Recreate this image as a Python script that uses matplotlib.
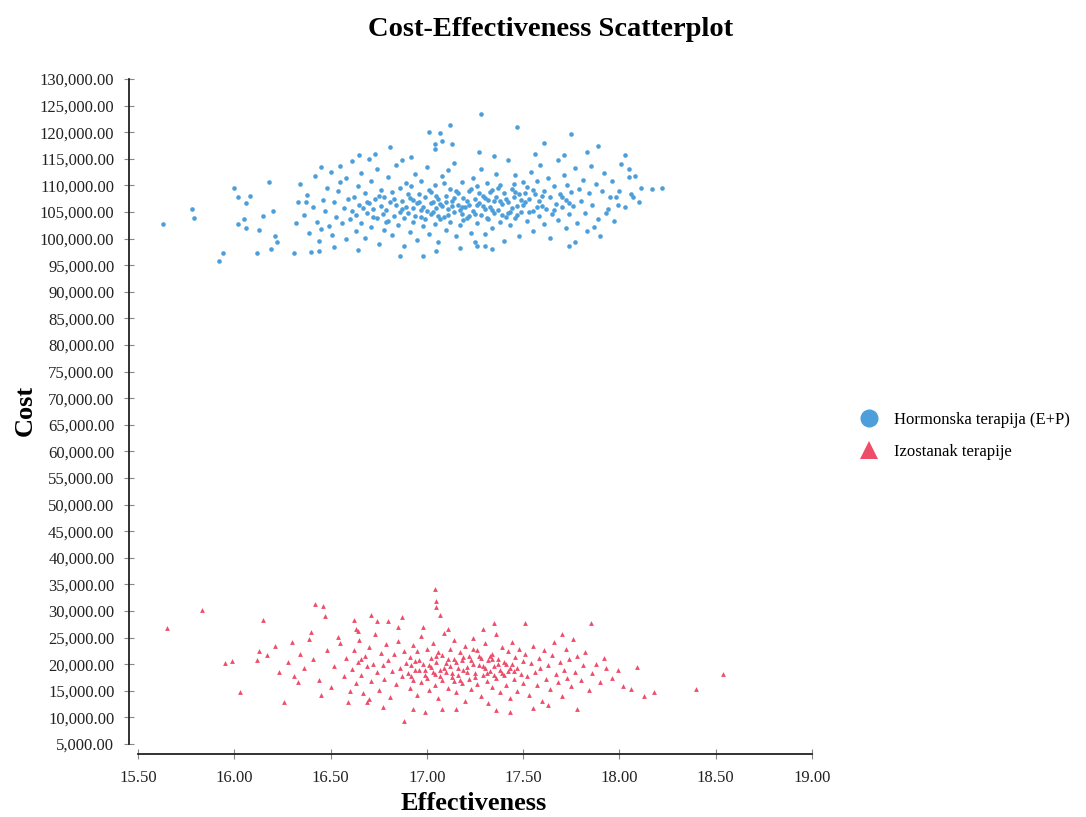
# -*- coding: utf-8 -*-
import matplotlib
matplotlib.use('Agg')
import matplotlib.pyplot as plt
from matplotlib.lines import Line2D
from matplotlib.ticker import FuncFormatter

# (effectiveness, cost in thousands)
hormon_points = [
    # outliers
    (15.63, 102.7), (15.78, 105.6), (15.79, 103.9), (15.92, 95.8), (15.94, 97.3), (16.00, 109.5),
    (16.02, 107.8), (16.06, 106.6), (16.08, 108.0), (16.02, 102.7), (16.06, 101.9), (16.05, 103.6),
    (16.12, 97.2), (16.13, 101.7), (16.15, 104.2), (16.18, 110.6), (16.20, 105.1), (16.21, 100.4),
    (16.22, 99.4), (16.19, 98.0), (16.31, 97.3), (16.32, 102.9), (16.33, 106.9), (16.34, 110.3),
    (16.45, 113.4), (16.40, 97.4), (16.44, 97.7), (16.52, 98.5), (16.61, 114.6), (16.65, 115.8),
    (16.73, 115.9), (16.81, 117.3), (17.01, 120.1), (17.07, 119.8), (17.12, 121.4), (17.08, 118.4),
    (17.04, 117.8), (17.04, 116.8), (17.13, 117.7), (16.86, 96.7), (16.98, 96.7), (17.26, 98.6),
    (17.28, 123.5), (17.47, 120.9), (17.75, 119.7), (17.89, 117.5), (18.03, 115.8), (18.05, 113.0),
    (18.22, 109.6), (18.17, 109.3), (18.11, 109.6), (18.07, 107.9), (18.10, 106.9), (18.05, 111.5),
    (17.95, 107.9), (17.98, 107.9), (17.99, 106.3), (17.93, 104.8), (17.74, 98.6), (17.77, 99.3),
    (17.87, 102.2), (17.30, 98.6), (17.34, 98.0), (17.83, 116.3), (17.61, 117.9),
    # 16.35 - 16.6
    (16.36, 104.5), (16.38, 108.2), (16.39, 101.0), (16.41, 106.0), (16.42, 111.8), (16.43, 103.2),
    (16.44, 99.5), (16.46, 107.3), (16.47, 105.1), (16.48, 109.6), (16.49, 102.3), (16.50, 112.5),
    (16.51, 100.6), (16.52, 106.8), (16.53, 104.0), (16.54, 108.9), (16.55, 110.7), (16.56, 102.9),
    (16.57, 105.8), (16.58, 99.9), (16.59, 107.5), (16.60, 103.6), (16.37, 106.9), (16.45, 101.8),
    (16.55, 113.6), (16.58, 111.3),
    # 16.6 - 16.9
    (16.61, 105.2), (16.62, 107.9), (16.63, 101.4), (16.63, 104.4), (16.64, 109.8), (16.65, 106.3),
    (16.66, 112.4), (16.66, 103.0), (16.67, 105.7), (16.68, 100.2), (16.68, 108.5), (16.69, 104.9),
    (16.70, 106.6), (16.71, 102.1), (16.71, 110.9), (16.72, 105.5), (16.73, 107.4), (16.74, 103.8),
    (16.74, 113.1), (16.75, 99.0), (16.76, 106.1), (16.76, 109.2), (16.77, 104.6), (16.78, 101.7),
    (16.78, 107.9), (16.79, 105.3), (16.80, 111.6), (16.80, 103.3), (16.81, 106.9), (16.82, 100.6),
    (16.82, 108.8), (16.83, 104.2), (16.84, 106.4), (16.84, 113.9), (16.85, 102.5), (16.86, 109.5),
    (16.86, 105.0), (16.87, 107.1), (16.88, 98.7), (16.88, 103.9), (16.89, 110.4), (16.89, 106.0),
    (16.64, 97.9), (16.70, 115.0), (16.87, 114.8),
    # 16.9 - 17.2
    (16.90, 104.8), (16.91, 107.6), (16.91, 101.2), (16.92, 109.9), (16.93, 105.7), (16.93, 103.1),
    (16.94, 112.2), (16.95, 106.6), (16.95, 99.8), (16.96, 108.3), (16.97, 104.1), (16.97, 110.9),
    (16.98, 106.0), (16.98, 102.4), (16.99, 107.9), (17.00, 105.2), (17.00, 113.5), (17.01, 100.9),
    (17.02, 108.7), (17.02, 104.6), (17.03, 106.9), (17.04, 102.8), (17.04, 110.1), (17.05, 105.8),
    (17.06, 107.4), (17.06, 99.3), (17.07, 103.7), (17.08, 111.7), (17.08, 106.2), (17.09, 104.0),
    (17.10, 108.1), (17.10, 101.6), (17.11, 105.5), (17.12, 109.4), (17.12, 103.2), (17.13, 107.0),
    (17.14, 114.3), (17.14, 105.0), (17.15, 100.4), (17.16, 108.6), (17.16, 106.4), (17.17, 102.6),
    (17.18, 110.6), (17.18, 104.7), (17.19, 107.7), (17.20, 105.9), (16.92, 115.3), (17.05, 97.7),
    (17.17, 98.3), (17.11, 112.9),
    # 17.2 - 17.5
    (17.21, 103.9), (17.22, 108.9), (17.22, 106.3), (17.23, 101.1), (17.24, 111.3), (17.24, 105.1),
    (17.25, 107.5), (17.26, 103.0), (17.26, 109.8), (17.27, 106.7), (17.28, 104.4), (17.28, 113.0),
    (17.29, 108.0), (17.30, 100.8), (17.30, 105.6), (17.31, 110.5), (17.32, 107.2), (17.32, 103.6),
    (17.33, 106.0), (17.34, 109.1), (17.34, 101.9), (17.35, 104.9), (17.36, 112.1), (17.36, 107.8),
    (17.37, 105.3), (17.38, 103.1), (17.38, 110.0), (17.39, 106.5), (17.40, 108.6), (17.40, 99.6),
    (17.41, 104.1), (17.42, 114.7), (17.42, 106.9), (17.43, 102.5), (17.44, 109.4), (17.44, 105.7),
    (17.45, 107.9), (17.46, 103.8), (17.46, 111.9), (17.47, 106.1), (17.48, 100.5), (17.48, 108.4),
    (17.49, 105.0), (17.50, 110.7), (17.27, 116.2), (17.35, 115.6), (17.25, 99.4),
    # 17.5 - 17.8
    (17.51, 106.8), (17.52, 103.4), (17.52, 109.7), (17.53, 107.5), (17.54, 112.6), (17.55, 105.2),
    (17.55, 101.4), (17.56, 108.3), (17.57, 110.9), (17.58, 104.3), (17.58, 107.0), (17.59, 113.8),
    (17.60, 106.2), (17.61, 102.7), (17.61, 109.0), (17.62, 105.5), (17.63, 111.4), (17.64, 107.8),
    (17.64, 100.1), (17.65, 104.7), (17.66, 109.9), (17.67, 106.5), (17.68, 114.8), (17.68, 103.5),
    (17.69, 108.4), (17.70, 105.9), (17.71, 111.9), (17.72, 107.3), (17.72, 101.9), (17.73, 110.1),
    (17.74, 104.6), (17.75, 108.8), (17.76, 106.2), (17.77, 113.2), (17.78, 103.0), (17.79, 109.4),
    (17.80, 107.1), (17.56, 115.9), (17.71, 115.7),
    # 17.8 - 18.1
    (17.81, 111.0), (17.82, 104.8), (17.84, 108.6), (17.85, 113.6), (17.86, 106.4), (17.88, 110.2),
    (17.89, 103.7), (17.91, 108.9), (17.92, 112.3), (17.94, 105.6), (17.96, 110.9), (17.97, 103.3),
    (18.00, 109.0), (18.01, 114.1), (18.03, 105.9), (18.06, 108.4), (18.08, 111.8), (17.83, 101.4),
    (17.90, 100.5),
    # dense centre
    (16.87, 105.6), (16.90, 108.4), (16.94, 104.3), (16.96, 106.9), (16.99, 103.7), (17.01, 109.1),
    (17.03, 105.0), (17.05, 108.0), (17.07, 106.5), (17.09, 110.4), (17.11, 104.5), (17.13, 106.1),
    (17.15, 109.0), (17.17, 105.3), (17.19, 103.5), (17.21, 107.0), (17.23, 109.4), (17.25, 104.6),
    (17.27, 108.5), (17.29, 106.2), (17.31, 103.8), (17.33, 108.8), (17.35, 107.0), (17.37, 109.6),
    (17.39, 104.5), (17.41, 107.4), (17.43, 105.0), (17.45, 110.3), (17.47, 104.4), (17.49, 107.2),
    (17.51, 108.6), (17.53, 105.0), (17.55, 109.1), (17.57, 106.0), (16.93, 107.2), (16.97, 105.3),
    (17.02, 106.7), (17.06, 104.2), (17.10, 106.9), (17.14, 107.6), (17.18, 106.0), (17.22, 104.2),
    (17.26, 106.3), (17.30, 107.6), (17.34, 105.4), (17.38, 107.1), (17.42, 104.8), (17.46, 108.8),
    (17.50, 106.4), (16.83, 107.4), (16.79, 103.1), (16.75, 108.0), (16.72, 104.0), (16.69, 106.8),
    (17.60, 108.1), (17.66, 105.4), (17.70, 107.9), (17.74, 106.6),
]

izostanak_points = [
    # outliers
    (15.65, 26.8), (15.83, 30.2), (15.95, 20.3), (15.99, 20.6), (16.03, 14.8), (16.15, 28.4),
    (16.12, 20.8), (16.13, 22.4), (16.21, 23.4), (16.26, 12.9), (16.23, 18.6), (16.42, 31.3),
    (16.46, 31.0), (16.47, 29.1), (16.54, 25.1), (16.30, 24.2), (16.31, 17.7), (16.71, 29.3),
    (16.74, 28.1), (16.62, 28.3), (16.64, 26.3), (16.80, 28.1), (16.87, 28.9), (17.04, 34.1),
    (17.05, 31.8), (17.05, 30.8), (17.07, 29.2), (16.88, 9.4), (16.69, 12.9), (16.45, 14.3),
    (16.59, 12.9), (16.77, 11.9), (16.93, 11.6), (16.99, 11.1), (17.08, 11.6), (17.15, 11.6),
    (18.54, 18.2), (18.40, 15.3), (18.18, 14.8), (18.13, 14.0), (18.09, 19.4), (18.02, 15.9),
    (18.06, 15.3), (17.85, 27.7), (17.51, 27.8), (17.35, 27.8), (17.76, 24.7), (17.92, 21.1),
    (17.99, 18.9), (17.36, 11.4), (17.43, 11.1), (17.78, 11.5), (17.55, 11.7),
    # sparse left part
    (16.17, 21.7), (16.28, 20.5), (16.34, 22.0), (16.36, 19.2), (16.33, 16.7), (16.39, 24.8),
    (16.41, 20.9), (16.44, 17.1), (16.48, 22.6), (16.50, 15.8), (16.52, 19.6), (16.55, 23.9),
    (16.57, 17.8), (16.58, 21.2), (16.60, 14.9), (16.40, 26.1),
    # 16.6 - 16.9
    (16.61, 19.1), (16.62, 22.7), (16.63, 16.5), (16.64, 20.4), (16.65, 24.5), (16.66, 18.0),
    (16.67, 14.6), (16.68, 21.5), (16.69, 19.6), (16.70, 23.2), (16.71, 16.9), (16.72, 20.1),
    (16.73, 25.6), (16.74, 18.5), (16.75, 15.1), (16.76, 22.1), (16.77, 19.9), (16.78, 17.3),
    (16.79, 23.8), (16.80, 20.7), (16.81, 13.9), (16.82, 18.8), (16.83, 21.9), (16.84, 16.2),
    (16.85, 24.4), (16.86, 19.3), (16.87, 17.7), (16.88, 22.5), (16.89, 20.2), (16.63, 26.6),
    (16.70, 13.4), (16.85, 26.9), (16.66, 21.0),
    # 16.9 - 17.2
    (16.90, 18.3), (16.91, 21.3), (16.91, 15.6), (16.92, 19.8), (16.93, 23.6), (16.93, 17.1),
    (16.94, 20.6), (16.95, 14.2), (16.95, 22.4), (16.96, 18.9), (16.97, 25.3), (16.97, 16.6),
    (16.98, 20.1), (16.99, 19.0), (17.00, 22.9), (17.00, 17.5), (17.01, 15.1), (17.02, 21.1),
    (17.02, 19.4), (17.03, 24.0), (17.04, 18.2), (17.04, 16.0), (17.05, 20.5), (17.06, 22.3),
    (17.06, 13.7), (17.07, 19.0), (17.08, 17.0), (17.08, 21.8), (17.09, 25.9), (17.10, 18.6),
    (17.10, 20.3), (17.11, 15.5), (17.12, 22.9), (17.12, 19.6), (17.13, 17.6), (17.14, 21.0),
    (17.14, 24.6), (17.15, 14.7), (17.16, 19.2), (17.16, 18.0), (17.17, 22.2), (17.18, 16.4),
    (17.18, 20.8), (17.19, 18.9), (17.20, 23.5), (17.20, 13.0), (16.98, 27.0), (17.11, 26.6),
    # 17.2 - 17.5
    (17.21, 19.5), (17.22, 17.2), (17.22, 21.6), (17.23, 15.3), (17.24, 20.1), (17.24, 24.9),
    (17.25, 18.4), (17.26, 22.6), (17.26, 16.3), (17.27, 19.9), (17.28, 14.0), (17.28, 21.2),
    (17.29, 18.0), (17.30, 23.9), (17.30, 19.3), (17.31, 16.8), (17.32, 20.7), (17.32, 12.7),
    (17.33, 18.7), (17.34, 22.0), (17.34, 15.7), (17.35, 19.6), (17.36, 25.6), (17.36, 17.5),
    (17.37, 21.0), (17.38, 14.7), (17.38, 19.0), (17.39, 23.2), (17.40, 17.9), (17.40, 20.4),
    (17.41, 16.1), (17.42, 22.4), (17.42, 18.8), (17.43, 13.6), (17.44, 20.0), (17.44, 24.2),
    (17.45, 17.3), (17.46, 21.4), (17.47, 15.0), (17.47, 19.2), (17.48, 22.8), (17.49, 18.1),
    (17.50, 20.6), (17.50, 16.5), (17.29, 26.7),
    # 17.5 - 17.9
    (17.51, 21.9), (17.52, 17.8), (17.53, 14.3), (17.54, 20.3), (17.55, 23.5), (17.56, 18.6),
    (17.57, 16.0), (17.58, 21.2), (17.59, 19.3), (17.60, 13.1), (17.61, 22.6), (17.62, 17.2),
    (17.63, 19.9), (17.64, 15.4), (17.65, 21.7), (17.66, 24.1), (17.67, 18.2), (17.68, 16.7),
    (17.69, 20.5), (17.70, 14.1), (17.71, 19.0), (17.72, 22.9), (17.73, 17.4), (17.74, 20.9),
    (17.75, 15.9), (17.77, 18.6), (17.78, 21.5), (17.80, 17.0), (17.81, 19.8), (17.82, 22.2),
    (17.84, 15.2), (17.86, 18.3), (17.88, 20.1), (17.90, 16.6), (17.93, 19.2), (17.96, 17.4),
    (17.63, 12.4), (17.70, 25.6),
    # dense centre
    (16.96, 20.8), (16.99, 17.9), (17.01, 19.8), (17.03, 18.6), (17.05, 21.6), (17.07, 17.7),
    (17.09, 19.3), (17.11, 20.9), (17.13, 18.4), (17.15, 20.4), (17.17, 17.0), (17.19, 21.3),
    (17.21, 18.5), (17.23, 20.7), (17.25, 17.6), (17.27, 21.5), (17.29, 19.6), (17.31, 18.3),
    (17.33, 21.6), (17.35, 17.9), (17.37, 20.0), (17.39, 18.4), (17.41, 20.0), (17.43, 19.3),
    (17.45, 18.7), (16.92, 17.8), (16.94, 19.0), (17.14, 16.9), (17.24, 22.9), (17.34, 20.9),
]

series_labels = ['Hormonska terapija (E+P)', 'Izostanak terapije']
x_ticks = [15.5, 16.0, 16.5, 17.0, 17.5, 18.0, 18.5, 19.0]
y_ticks = list(range(5000, 130001, 5000))

BLUE = '#4c9fda'
RED = '#ee4d6a'
SERIF = ['Liberation Serif', 'DejaVu Serif']

plt.rcParams['font.family'] = SERIF

fig = plt.figure(figsize=(10.86, 8.17), dpi=100)
W, H = 1086, 817
ax = fig.add_axes([138 / W, 1 - 744 / H, (812 - 138) / W, (744 - 79) / H])

hx = [p[0] for p in hormon_points]
hy = [p[1] * 1000 for p in hormon_points]
ix = [p[0] for p in izostanak_points]
iy = [p[1] * 1000 for p in izostanak_points]

ax.scatter(hx, hy, s=11, marker='o', color=BLUE, linewidths=0)
ax.scatter(ix, iy, s=12, marker='^', color=RED, linewidths=0)

ax.set_xlim(15.5, 19.0)
ax.set_ylim(5000, 130000)
ax.set_xticks(x_ticks)
ax.set_yticks(y_ticks)
ax.xaxis.set_major_formatter(FuncFormatter(lambda v, p: f'{v:.2f}'))
ax.yaxis.set_major_formatter(FuncFormatter(lambda v, p: f'{v:,.2f}'))

for side in ('top', 'right'):
    ax.spines[side].set_visible(False)
ax.spines['left'].set_position(('outward', 6.5))
ax.spines['bottom'].set_position(('outward', 7.2))
ax.spines['left'].set_bounds(5000, 130000)
ax.spines['bottom'].set_bounds(15.5, 19.0)
for side in ('left', 'bottom'):
    ax.spines[side].set_linewidth(1.3)
    ax.spines[side].set_color('#222222')

ax.tick_params(axis='both', direction='inout', length=7, width=0.8, color='#888888',
               labelsize=12, labelcolor='#222222')
ax.tick_params(axis='y', pad=7)
ax.tick_params(axis='x', pad=8)

fig.text(551 / W, 1 - 29 / H, 'Cost-Effectiveness Scatterplot', ha='center', va='center',
         fontsize=20.5, fontweight='bold')
fig.text(474 / W, 1 - 803 / H, 'Effectiveness', ha='center', va='center',
         fontsize=19, fontweight='bold')
fig.text(25 / W, 1 - 410 / H, 'Cost', ha='center', va='center', rotation=90,
         fontsize=19, fontweight='bold')

handles = [
    Line2D([], [], linestyle='none', marker='o', markersize=13, color=BLUE, markeredgewidth=0),
    Line2D([], [], linestyle='none', marker='^', markersize=13, color=RED, markeredgewidth=0),
]
fig.legend(handles, series_labels, loc='center left', bbox_to_anchor=(846 / W, 1 - 436 / H),
           frameon=False, fontsize=12, handlelength=2.0, handletextpad=0.5,
           labelspacing=0.95, borderaxespad=0)

fig.savefig('out.png', dpi=100)
